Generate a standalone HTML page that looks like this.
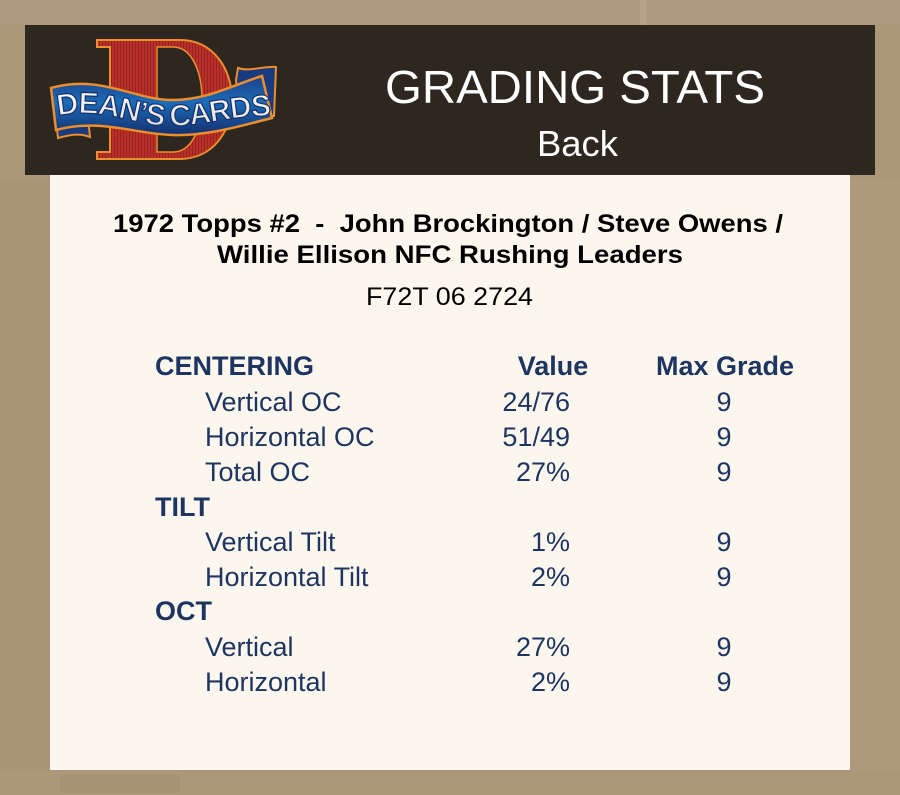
<!DOCTYPE html>
<html>
<head>
<meta charset="utf-8">
<style>
html,body{margin:0;padding:0;width:900px;height:795px;overflow:hidden;background:#ab9878;}
svg{display:block;}
</style>
</head>
<body>
<svg width="900" height="795" viewBox="0 0 900 795" xmlns="http://www.w3.org/2000/svg">
  <defs>
    <linearGradient id="rib" x1="0" y1="0" x2="0" y2="1">
      <stop offset="0" stop-color="#1d3f86"/>
      <stop offset="0.45" stop-color="#1c6bb8"/>
      <stop offset="1" stop-color="#123070"/>
    </linearGradient>
    <linearGradient id="txt" x1="0" y1="0" x2="0" y2="1">
      <stop offset="0" stop-color="#ffffff"/>
      <stop offset="1" stop-color="#d9d9d9"/>
    </linearGradient>
    <pattern id="stripes" width="3" height="10" patternUnits="userSpaceOnUse">
      <rect width="3" height="10" fill="#b8302a"/>
      <rect width="1" height="10" fill="#9a221e"/>
    </pattern>
    <path id="tp" d="M58,116 C100,106 135,126 170,126 C205,126 240,114 274,116"/>
  </defs>

  <!-- background -->
  <rect x="0" y="0" width="900" height="795" fill="#ab9878"/>
  <rect x="0" y="0" width="900" height="25" fill="#ae9b7d"/>
  <rect x="640" y="0" width="6" height="25" fill="#bba98c" opacity="0.6"/>
  <rect x="60" y="775" width="120" height="18" fill="#a48f70" opacity="0.7"/>
  <rect x="0" y="180" width="50" height="590" fill="#aa9676"/>
  <rect x="850" y="180" width="50" height="590" fill="#ad9a7b"/>

  <!-- header -->
  <rect x="25" y="25" width="850" height="150" fill="#2e271f"/>

  <!-- panel -->
  <rect x="50" y="175" width="800" height="595" fill="#fcf7ee"/>

  <!-- logo: D -->
  <path d="M97,40 L180,40 C214,40 232,70 232,100 C232,132 212,159 180,159 L97,159 L97,152 L110,152 L110,47 L97,47 Z"
        fill="url(#stripes)" stroke="#ec8e2c" stroke-width="2"/>
  <path d="M157,47 L173,47 C192,47 202,72 202,100 C202,128 192,152 173,152 L157,152 Z"
        fill="#2e271f" stroke="#ec8e2c" stroke-width="1.5"/>

  <!-- logo: ribbon tails -->
  <path d="M236,80 L238,68 C250,72 262,66 276,67 L274,116 L240,120 Z" fill="#173a80" stroke="#ec8e2c" stroke-width="2"/>
  <path d="M56,120 L88,118 L90,137 C78,132 66,136 58,138 Z" fill="#173a80" stroke="#ec8e2c" stroke-width="2"/>
  <!-- logo: ribbon body -->
  <path d="M51,88 C100,74 135,100 172,100 C208,100 235,84 262,76 L272,118 C240,126 208,136 172,135 C135,134 100,118 56,130 Z"
        fill="url(#rib)" stroke="#ec8e2c" stroke-width="2.5"/>
  <text font-family="'Liberation Sans', sans-serif" font-weight="bold" font-size="30" fill="url(#txt)" stroke="#16306a" stroke-width="1.2" letter-spacing="-1.2">
    <textPath href="#tp">DEAN’S CARDS</textPath>
  </text>

  <!-- header titles -->
  <text x="385" y="103" font-family="'Liberation Sans', sans-serif" font-size="46" fill="#ffffff" textLength="380" lengthAdjust="spacingAndGlyphs">GRADING STATS</text>
  <text x="537" y="156" font-family="'Liberation Sans', sans-serif" font-size="36" fill="#ffffff" textLength="81" lengthAdjust="spacingAndGlyphs">Back</text>

  <!-- card title -->
  <g font-family="'Liberation Sans', sans-serif" fill="#000000">
    <text x="113" y="232" font-size="25" font-weight="bold" textLength="670" lengthAdjust="spacingAndGlyphs" xml:space="preserve">1972 Topps #2  -  John Brockington / Steve Owens /</text>
    <text x="217" y="263" font-size="25" font-weight="bold" textLength="466" lengthAdjust="spacingAndGlyphs">Willie Ellison NFC Rushing Leaders</text>
    <text x="366" y="305" font-size="25" textLength="167" lengthAdjust="spacingAndGlyphs">F72T 06 2724</text>
  </g>

  <!-- table -->
  <g font-family="'Liberation Sans', sans-serif" font-size="27" fill="#1f3561">
    <text x="155" y="375" font-weight="bold">CENTERING</text>
    <text x="553" y="375" font-weight="bold" text-anchor="middle">Value</text>
    <text x="725" y="375" font-weight="bold" text-anchor="middle">Max Grade</text>

    <text x="205" y="411">Vertical OC</text>
    <text x="570" y="411" text-anchor="end">24/76</text>
    <text x="724" y="411" text-anchor="middle">9</text>

    <text x="205" y="446">Horizontal OC</text>
    <text x="570" y="446" text-anchor="end">51/49</text>
    <text x="724" y="446" text-anchor="middle">9</text>

    <text x="205" y="481">Total OC</text>
    <text x="570" y="481" text-anchor="end">27%</text>
    <text x="724" y="481" text-anchor="middle">9</text>

    <text x="155" y="516" font-weight="bold">TILT</text>

    <text x="205" y="551">Vertical Tilt</text>
    <text x="570" y="551" text-anchor="end">1%</text>
    <text x="724" y="551" text-anchor="middle">9</text>

    <text x="205" y="586">Horizontal Tilt</text>
    <text x="570" y="586" text-anchor="end">2%</text>
    <text x="724" y="586" text-anchor="middle">9</text>

    <text x="155" y="620" font-weight="bold">OCT</text>

    <text x="205" y="656">Vertical</text>
    <text x="570" y="656" text-anchor="end">27%</text>
    <text x="724" y="656" text-anchor="middle">9</text>

    <text x="205" y="691">Horizontal</text>
    <text x="570" y="691" text-anchor="end">2%</text>
    <text x="724" y="691" text-anchor="middle">9</text>
  </g>
</svg>
</body>
</html>
